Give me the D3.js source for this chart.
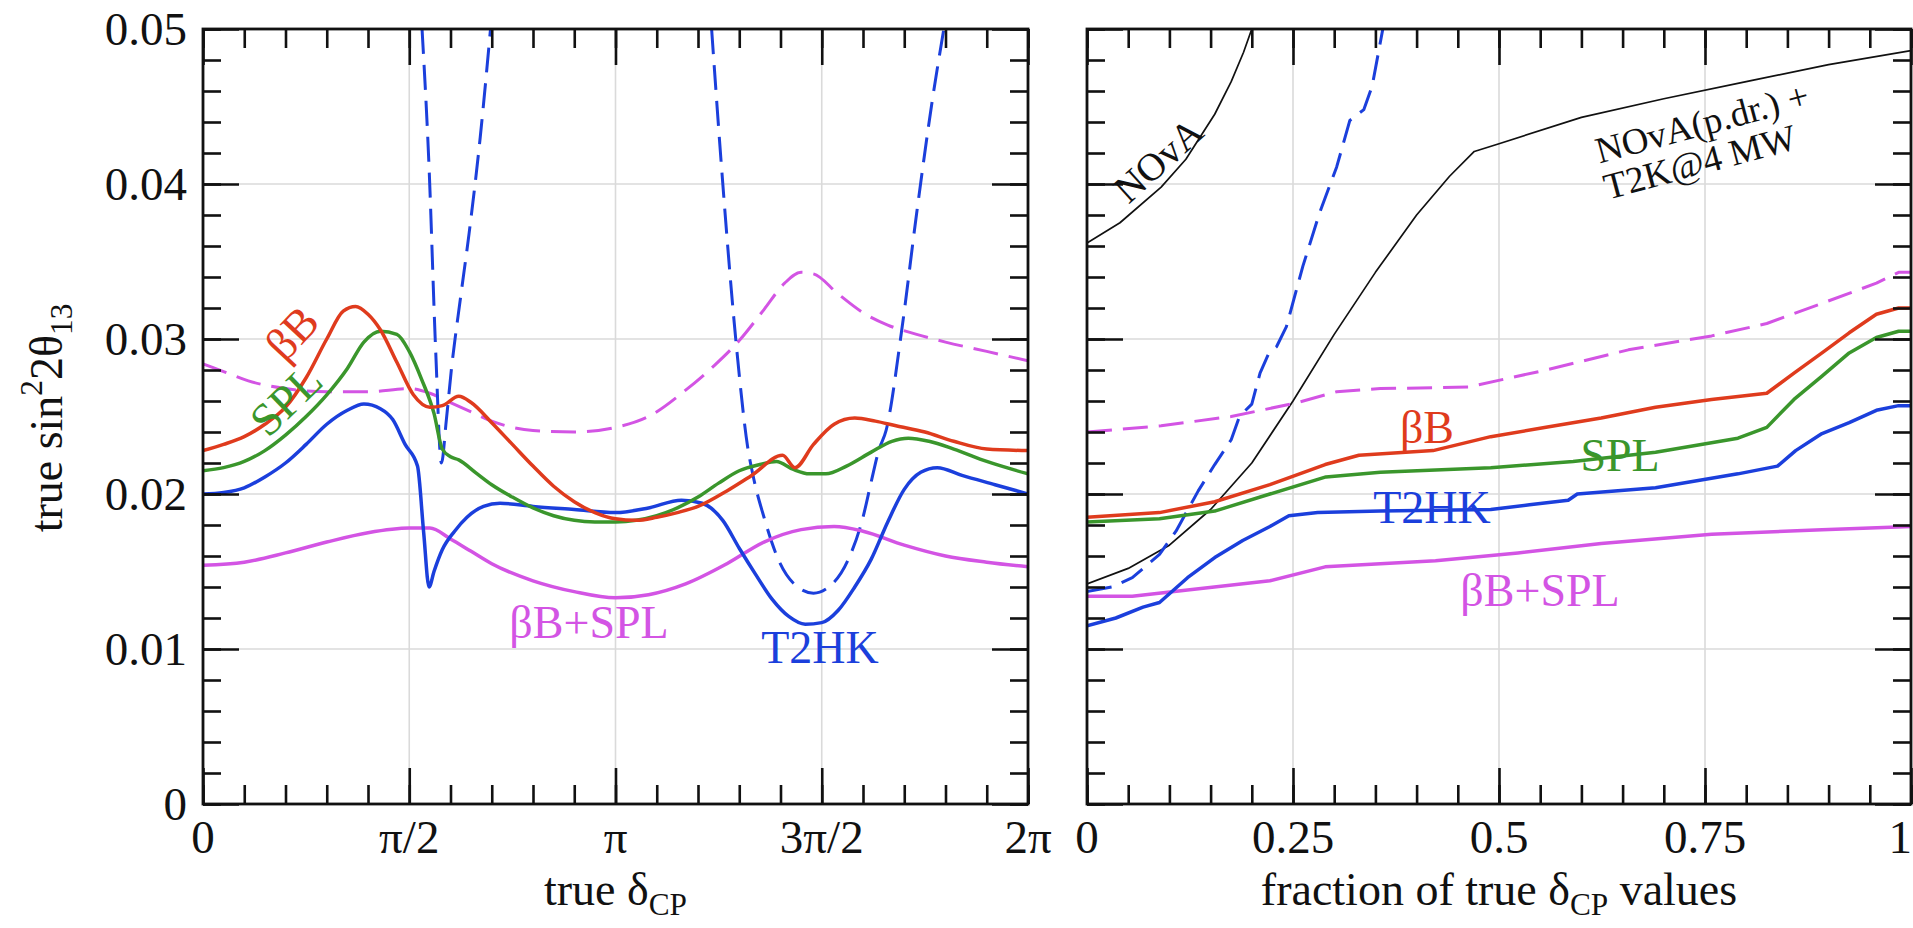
<!DOCTYPE html>
<html><head><meta charset="utf-8">
<script src="https://cdn.jsdelivr.net/npm/d3@7"></script>
<style>
body{margin:0;background:#fff}
svg{display:block}
text{font-family:"Liberation Serif","Times New Roman",Times,serif;}
</style>
</head><body>
<svg id="c" width="1913" height="928"></svg>
<script>
// ---------- DATA (left panel: x = true deltaCP in units of pi) ----------
const betaBLeft = [[0,0.0228],[0.05,0.0232],[0.1,0.0237],[0.15,0.0245],[0.2,0.0256],[0.25,0.0275],[0.3,0.0300],[0.34,0.0318],[0.37,0.0321],[0.40,0.0316],[0.43,0.0306],[0.47,0.0285],[0.51,0.0264],[0.55,0.0256],[0.58,0.0257],[0.62,0.0263],[0.65,0.0259],[0.70,0.0246],[0.75,0.0232],[0.80,0.0218],[0.85,0.0205],[0.90,0.0195],[0.95,0.0188],[1.0,0.0184],[1.05,0.0183],[1.10,0.0185],[1.15,0.0188],[1.20,0.0192],[1.27,0.0202],[1.33,0.0212],[1.405,0.0225],[1.435,0.0217],[1.48,0.0232],[1.53,0.0245],[1.58,0.0249],[1.63,0.0247],[1.68,0.0244],[1.75,0.0240],[1.82,0.0234],[1.9,0.0229],[2.0,0.0228]];
const splLeft = [[0,0.0215],[0.05,0.0217],[0.1,0.0221],[0.15,0.0228],[0.2,0.0238],[0.25,0.0250],[0.3,0.0264],[0.35,0.0281],[0.39,0.0298],[0.43,0.0305],[0.47,0.0303],[0.50,0.0292],[0.53,0.0274],[0.56,0.0252],[0.58,0.0229],[0.60,0.0224],[0.62,0.0222],[0.66,0.0214],[0.70,0.0206],[0.75,0.0198],[0.80,0.0191],[0.85,0.0186],[0.90,0.0183],[0.95,0.0182],[1.0,0.0182],[1.05,0.0183],[1.10,0.0186],[1.15,0.0191],[1.20,0.0198],[1.25,0.0207],[1.30,0.0215],[1.35,0.0219],[1.39,0.0221],[1.43,0.0216],[1.47,0.0213],[1.51,0.0213],[1.56,0.0218],[1.62,0.0227],[1.67,0.0234],[1.71,0.0236],[1.76,0.0234],[1.82,0.0229],[1.9,0.0221],[2.0,0.0213]];
const t2hkLeft = [[0,0.0200],[0.05,0.0201],[0.1,0.0204],[0.15,0.0211],[0.2,0.0220],[0.25,0.0232],[0.3,0.0245],[0.35,0.0254],[0.39,0.0258],[0.43,0.0255],[0.46,0.0248],[0.49,0.0232],[0.52,0.0218],[0.535,0.0175],[0.548,0.0140],[0.56,0.0150],[0.58,0.0164],[0.61,0.0176],[0.64,0.0185],[0.68,0.0192],[0.72,0.0194],[0.8,0.0192],[0.9,0.0190],[1.0,0.0188],[1.08,0.0191],[1.16,0.0196],[1.21,0.0194],[1.26,0.0183],[1.30,0.0165],[1.34,0.0148],[1.38,0.0132],[1.42,0.0121],[1.46,0.0116],[1.50,0.0117],[1.54,0.0125],[1.58,0.0140],[1.62,0.0158],[1.66,0.0182],[1.70,0.0203],[1.74,0.0214],[1.78,0.0217],[1.84,0.0212],[1.92,0.0206],[2.0,0.0200]];
const comboLeft = [[0,0.0154],[0.1,0.0156],[0.2,0.0162],[0.3,0.0169],[0.4,0.0175],[0.5,0.0178],[0.55,0.0178],[0.6,0.0171],[0.65,0.0163],[0.7,0.0155],[0.8,0.0144],[0.9,0.0137],[1.0,0.0133],[1.08,0.0135],[1.17,0.0142],[1.27,0.0155],[1.36,0.0169],[1.45,0.0177],[1.53,0.0179],[1.6,0.0176],[1.7,0.0167],[1.8,0.0160],[1.9,0.0156],[2.0,0.0153]];
const comboDashLeft = [[0,0.0284],[0.05,0.0279],[0.11,0.0273],[0.2,0.0268],[0.3,0.0266],[0.4,0.0266],[0.5,0.0268],[0.55,0.0265],[0.6,0.0259],[0.65,0.0253],[0.7,0.0247],[0.8,0.0241],[0.9,0.0240],[1.0,0.0243],[1.08,0.0250],[1.17,0.0267],[1.24,0.0283],[1.3,0.0299],[1.36,0.0319],[1.41,0.0336],[1.45,0.0343],[1.48,0.0342],[1.54,0.0329],[1.6,0.0317],[1.66,0.0309],[1.73,0.0303],[1.8,0.0298],[1.9,0.0292],[2.0,0.0286]];
const t2hkDashLeftA = [[0.531,0.0500],[0.548,0.0411],[0.564,0.0293],[0.578,0.0220],[0.590,0.0248],[0.602,0.0280],[0.625,0.0328],[0.645,0.0368],[0.672,0.0430],[0.697,0.0500]];
const t2hkDashLeftB = [[1.233,0.0500],[1.257,0.0411],[1.294,0.0293],[1.32,0.0231],[1.335,0.0210],[1.36,0.0185],[1.396,0.0157],[1.433,0.0142],[1.48,0.0136],[1.517,0.0140],[1.563,0.0157],[1.60,0.0185],[1.62,0.0208],[1.638,0.0228],[1.656,0.0241],[1.693,0.0304],[1.73,0.0381],[1.768,0.0454],[1.796,0.0500]];

// ---------- DATA (right panel: x = fraction of true deltaCP values) ----------
const novaRight = [[0,0.0362],[0.04,0.0375],[0.09,0.0398],[0.12,0.0416],[0.155,0.0445],[0.175,0.0466],[0.19,0.0485],[0.2,0.0500]];
const novaT2kRight = [[0,0.0142],[0.05,0.0152],[0.1,0.0167],[0.15,0.0190],[0.2,0.0220],[0.25,0.0260],[0.3,0.0303],[0.35,0.0343],[0.4,0.0380],[0.44,0.0405],[0.47,0.0421],[0.5,0.0426],[0.6,0.0443],[0.7,0.0455],[0.8,0.0466],[0.9,0.0477],[1.0,0.0486]];
const t2hkDashRight = [[0,0.0137],[0.03,0.0140],[0.055,0.0146],[0.088,0.0161],[0.108,0.0176],[0.135,0.0202],[0.155,0.0219],[0.175,0.0235],[0.185,0.0250],[0.2,0.0258],[0.21,0.0278],[0.22,0.0290],[0.23,0.0295],[0.242,0.0308],[0.262,0.0347],[0.282,0.0381],[0.303,0.0411],[0.319,0.0441],[0.336,0.0448],[0.346,0.0463],[0.359,0.0500]];
const comboDashRight = [[0,0.0240],[0.09,0.0244],[0.175,0.0250],[0.256,0.0259],[0.303,0.0266],[0.356,0.0268],[0.463,0.0269],[0.557,0.0280],[0.657,0.0293],[0.758,0.0302],[0.825,0.0310],[0.892,0.0323],[0.958,0.0336],[0.985,0.0343],[1.0,0.0343]];
const betaBRight = [[0,0.0185],[0.088,0.0188],[0.155,0.0195],[0.222,0.0206],[0.289,0.0219],[0.33,0.0225],[0.42,0.0228],[0.49,0.0237],[0.557,0.0243],[0.624,0.0249],[0.69,0.0256],[0.758,0.0261],[0.825,0.0265],[0.858,0.0278],[0.892,0.0291],[0.925,0.0304],[0.958,0.0316],[0.985,0.0320],[1.0,0.0320]];
const splRight = [[0,0.0182],[0.088,0.0184],[0.155,0.0189],[0.222,0.0200],[0.29,0.0211],[0.356,0.0214],[0.49,0.0217],[0.59,0.0221],[0.69,0.0227],[0.79,0.0236],[0.825,0.0243],[0.858,0.0261],[0.892,0.0276],[0.925,0.0291],[0.958,0.0301],[0.985,0.0305],[1.0,0.0305]];
const t2hkRight = [[0,0.0115],[0.035,0.0120],[0.068,0.0127],[0.088,0.0130],[0.122,0.0146],[0.155,0.0159],[0.189,0.0170],[0.222,0.0179],[0.245,0.0186],[0.28,0.0188],[0.356,0.0189],[0.49,0.0190],[0.537,0.0193],[0.584,0.0196],[0.595,0.0200],[0.69,0.0204],[0.79,0.0213],[0.838,0.0218],[0.86,0.0228],[0.892,0.0239],[0.925,0.0246],[0.958,0.0254],[0.985,0.0257],[1.0,0.0257]];
const comboRight = [[0,0.0134],[0.055,0.0134],[0.122,0.0138],[0.222,0.0144],[0.289,0.0153],[0.423,0.0157],[0.523,0.0162],[0.624,0.0168],[0.758,0.0174],[0.892,0.0177],[1.0,0.0179]];

// ---------- TICKS ----------
const yTickValues = [0,0.01,0.02,0.03,0.04,0.05];
const yTickLabels = ["0","0.01","0.02","0.03","0.04","0.05"];
const yMinorTicks = d3.range(0,26).map(i=>i*0.002);
const leftTickValues = [0,0.5,1,1.5,2];
const leftTickLabels = ["0","π/2","π","3π/2","2π"];
const leftMinorTicks = d3.range(0,21).map(i=>i*0.1);
const rightTickValues = [0,0.25,0.5,0.75,1];
const rightTickLabels = ["0","0.25","0.5","0.75","1"];
const rightMinorTicks = d3.range(0,21).map(i=>i*0.05);

// ---------- COLOURS ----------
const RED="#df3b1d", GREEN="#3a962c", BLUE="#1b3fdc", MAG="#d354e4";

const svg = d3.select("#c");
const T=29, B=804;
const y = d3.scaleLinear().domain([0,0.05]).range([B,T]);
const xL = d3.scaleLinear().domain([0,2]).range([203,1028]);
const xR = d3.scaleLinear().domain([0,1]).range([1087,1911]);

function panel(id, x, majors, minors, series, curve){
  const [x0,x1] = x.range();
  const g = svg.append("g");
  g.selectAll(".gv").data(majors.slice(1,-1)).join("line")
    .attr("x1",d=>x(d)).attr("x2",d=>x(d)).attr("y1",T).attr("y2",B)
    .attr("stroke","#dadada").attr("stroke-width",1.6);
  g.selectAll(".gh").data(yTickValues.slice(1,-1)).join("line")
    .attr("x1",x0).attr("x2",x1).attr("y1",d=>y(d)).attr("y2",d=>y(d))
    .attr("stroke","#dadada").attr("stroke-width",1.6);
  svg.append("clipPath").attr("id",id).append("rect")
    .attr("x",x0).attr("y",T).attr("width",x1-x0).attr("height",B-T);
  const cg = g.append("g").attr("clip-path",`url(#${id})`);
  series.forEach(s=>{
    const line = d3.line().x(d=>x(d[0])).y(d=>y(d[1])).curve(curve);
    cg.append("path").datum(s.data).attr("d",line)
      .attr("fill","none").attr("stroke",s.color).attr("stroke-width",s.w)
      .attr("stroke-dasharray",s.dash||null).attr("stroke-linejoin","round");
  });
  const tk = (axis,tr)=>{ const a=g.append("g").attr("transform",tr).call(axis);
    a.select(".domain").remove();
    a.selectAll(".tick line").attr("stroke","#111").attr("stroke-width",2.6);
    a.selectAll("text").remove(); };
  tk(d3.axisBottom(x).tickValues(minors).tickSize(-19),`translate(0,${B})`);
  tk(d3.axisBottom(x).tickValues(majors).tickSize(-36),`translate(0,${B})`);
  tk(d3.axisTop(x).tickValues(minors).tickSize(-19),`translate(0,${T})`);
  tk(d3.axisTop(x).tickValues(majors).tickSize(-36),`translate(0,${T})`);
  tk(d3.axisLeft(y).tickValues(yMinorTicks).tickSize(-18),`translate(${x0},0)`);
  tk(d3.axisLeft(y).tickValues(yTickValues).tickSize(-36),`translate(${x0},0)`);
  tk(d3.axisRight(y).tickValues(yMinorTicks).tickSize(-18),`translate(${x1},0)`);
  tk(d3.axisRight(y).tickValues(yTickValues).tickSize(-36),`translate(${x1},0)`);
  g.append("rect").attr("x",x0).attr("y",T).attr("width",x1-x0).attr("height",B-T)
    .attr("fill","none").attr("stroke","#111").attr("stroke-width",2.8);
  return g;
}

const DASH="25,11", SW=3.5, DW=3;
panel("clipL", xL, leftTickValues, leftMinorTicks, [
  {data:comboDashLeft,color:MAG,w:DW,dash:DASH},
  {data:t2hkDashLeftA,color:BLUE,w:DW,dash:DASH},
  {data:t2hkDashLeftB,color:BLUE,w:DW,dash:DASH},
  {data:comboLeft,color:MAG,w:SW},
  {data:t2hkLeft,color:BLUE,w:SW},
  {data:splLeft,color:GREEN,w:SW},
  {data:betaBLeft,color:RED,w:SW}
], d3.curveMonotoneX);

panel("clipR", xR, rightTickValues, rightMinorTicks, [
  {data:novaRight,color:"#111",w:1.7},
  {data:novaT2kRight,color:"#111",w:1.7},
  {data:comboDashRight,color:MAG,w:DW,dash:DASH},
  {data:t2hkDashRight,color:BLUE,w:DW,dash:DASH},
  {data:comboRight,color:MAG,w:SW},
  {data:t2hkRight,color:BLUE,w:SW},
  {data:splRight,color:GREEN,w:SW},
  {data:betaBRight,color:RED,w:SW}
], d3.curveLinear);

// ---------- tick labels ----------
const TF = 47;
svg.append("g").selectAll("text").data(yTickValues).join("text")
  .attr("x",187).attr("y",d=>y(d)+TF*0.34).attr("text-anchor","end")
  .attr("font-size",TF).attr("fill","#111").text((d,i)=>yTickLabels[i]);
svg.append("g").selectAll("text").data(leftTickValues).join("text")
  .attr("x",d=>xL(d)).attr("y",853).attr("text-anchor","middle")
  .attr("font-size",TF).attr("fill","#111").text((d,i)=>leftTickLabels[i]);
svg.append("g").selectAll("text").data(rightTickValues).join("text")
  .attr("x",d=>d===1?1912:xR(d)).attr("y",853).attr("text-anchor",d=>d===1?"end":"middle")
  .attr("font-size",TF).attr("fill","#111").text((d,i)=>rightTickLabels[i]);

// ---------- axis titles ----------
const AF = 46;
const t1 = svg.append("text").attr("x",(xL(0)+xL(2))/2).attr("y",905)
  .attr("text-anchor","middle").attr("font-size",AF).attr("fill","#111");
t1.append("tspan").text("true δ");
t1.append("tspan").attr("font-size",AF*0.68).attr("dy",10).text("CP");
const t2 = svg.append("text").attr("x",(xR(0)+xR(1))/2).attr("y",905)
  .attr("text-anchor","middle").attr("font-size",AF).attr("fill","#111");
t2.append("tspan").text("fraction of true δ");
t2.append("tspan").attr("font-size",AF*0.68).attr("dy",10).text("CP");
t2.append("tspan").attr("dy",-10).text(" values");
const t3 = svg.append("text").attr("transform","translate(62,418) rotate(-90)")
  .attr("text-anchor","middle").attr("font-size",AF).attr("fill","#111");
t3.append("tspan").text("true  sin");
t3.append("tspan").attr("font-size",AF*0.68).attr("dy",-20).text("2");
t3.append("tspan").attr("dy",20).text("2θ");
t3.append("tspan").attr("font-size",AF*0.68).attr("dy",10).text("13");

// ---------- curve labels ----------
function lab(txt,x,yy,color,size,rot){
  svg.append("text").attr("transform",`translate(${x},${yy}) rotate(${rot||0})`)
    .attr("text-anchor","middle").attr("dominant-baseline","central")
    .attr("font-size",size).attr("fill",color).text(txt);
}
const LF=46;
lab("βB",292,333,RED,LF,-47);
lab("SPL",286,400,GREEN,LF,-44);
lab("βB+SPL",589,622,MAG,LF,0);
lab("T2HK",820,647,BLUE,LF,0);
lab("NOvA",1158,160,"#111",39,-42);
lab("NOvA(p.dr.) +",1702,123,"#111",37,-15);
lab("T2K@4 MW",1700,162,"#111",37,-15);
lab("βB",1427,427,RED,LF,0);
lab("SPL",1620,455,GREEN,LF,0);
lab("T2HK",1432,507,BLUE,LF,0);
lab("βB+SPL",1540,590,MAG,LF,0);
</script>
</body></html>
